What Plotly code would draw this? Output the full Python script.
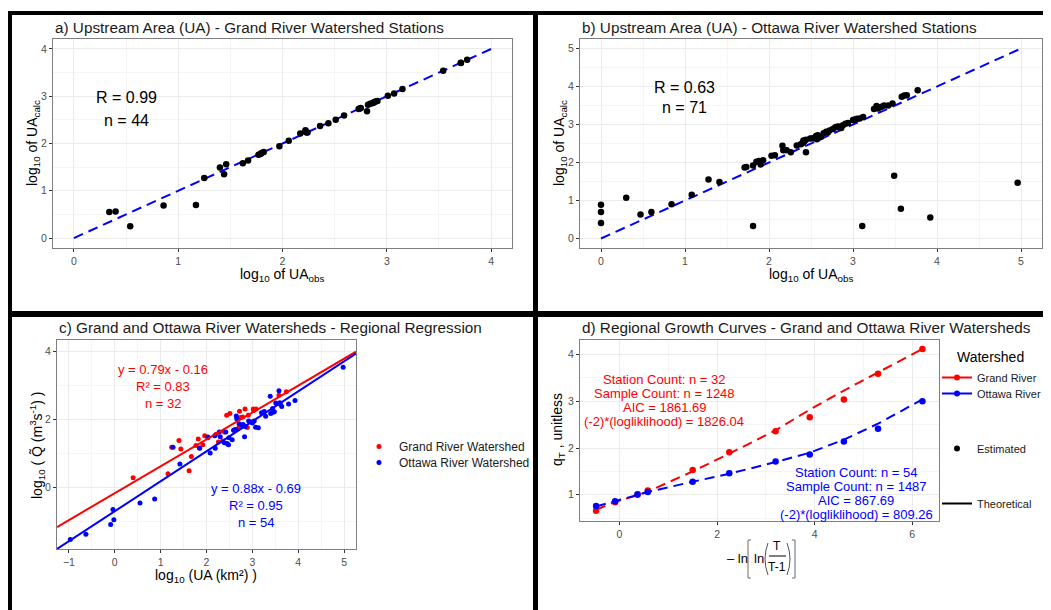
import plotly.graph_objects as go

W, H = 1051, 610
OFF = 8  # page offset of the plot div inside the browser window
FONT = "Liberation Sans, Arial, sans-serif"
RED = "#FF0000"
BLUE = "#0000FF"

# ---------------- Data ----------------
# a) Grand River: observed vs calculated log10 upstream area
grand_ua_obs = [0.34, 0.40, 0.54, 0.86, 1.17, 1.25, 1.40, 1.44, 1.46, 1.62, 1.67, 1.77, 1.79, 1.82,
                1.97, 2.06, 2.17, 2.22, 2.23, 2.24, 2.36, 2.44, 2.51, 2.59, 2.73, 2.75, 2.81, 2.82,
                2.84, 2.87, 2.89, 2.91, 3.01, 3.07, 3.15, 3.54, 3.71, 3.77, 2.86, 2.88, 2.22, 1.80,
                2.74, 3.71]
grand_ua_calc = [0.55, 0.56, 0.25, 0.69, 0.70, 1.27, 1.49, 1.35, 1.56, 1.58, 1.64, 1.76, 1.78, 1.82,
                 1.94, 2.06, 2.21, 2.28, 2.23, 2.23, 2.37, 2.43, 2.50, 2.59, 2.73, 2.75, 2.68, 2.82,
                 2.84, 2.86, 2.89, 2.90, 3.01, 3.06, 3.15, 3.54, 3.70, 3.77, 2.85, 2.87, 2.25, 1.80,
                 2.74, 3.71]

# b) Ottawa River: observed vs calculated log10 upstream area
ottawa_ua_obs = [0.00, 0.00, 0.00, 0.30, 0.47, 0.60, 0.84, 1.08, 1.28, 1.41, 1.81, 1.71, 1.73, 1.81,
                 1.85, 1.88, 1.90, 1.93, 2.03, 2.07, 2.16, 2.17, 2.21, 2.26, 2.33, 2.40, 2.41, 2.44,
                 2.44, 2.49, 2.56, 2.57, 2.62, 2.65, 2.68, 2.72, 2.79, 2.83, 2.86, 2.91, 2.94, 3.02,
                 3.05, 3.12, 3.11, 3.25, 3.28, 3.30, 3.37, 3.42, 3.47, 3.49, 3.57, 3.58, 3.61, 3.64,
                 3.77, 3.92, 4.96, 2.38, 2.42, 2.52, 2.58, 2.60, 2.70, 2.76, 2.81, 2.88, 3.00, 3.08,
                 3.34]
ottawa_ua_calc = [0.89, 0.70, 0.41, 1.07, 0.63, 0.70, 0.90, 1.15, 1.55, 1.49, 0.33, 1.87, 1.88, 1.92,
                  2.02, 2.04, 1.95, 2.06, 2.18, 2.19, 2.44, 2.32, 2.32, 2.27, 2.45, 2.51, 2.58, 2.27,
                  2.60, 2.63, 2.70, 2.61, 2.68, 2.77, 2.81, 2.84, 2.93, 2.95, 2.91, 3.02, 3.04, 3.13,
                  3.15, 3.20, 0.33, 3.41, 3.49, 3.42, 3.50, 3.50, 3.55, 1.65, 0.78, 3.73, 3.76, 3.77,
                  3.90, 0.55, 1.47, 2.48, 2.55, 2.64, 2.72, 2.66, 2.79, 2.88, 2.94, 2.98, 3.12, 3.16,
                  3.47]

# c) Regional regression: log10 UA vs log10 median flow
grand_reg_x = [0.40, 1.16, 1.24, 1.40, 1.44, 1.62, 1.67, 1.77, 1.82, 1.85, 1.96, 2.03, 2.21, 2.26,
               2.39, 2.44, 2.51, 2.60, 2.72, 2.74, 2.84, 2.91, 2.89, 3.02, 3.08, 2.71, 3.58, 3.74,
               2.35, 2.79, 3.03, 1.92]
grand_reg_y = [0.29, 0.41, 1.19, 1.39, 1.14, 0.50, 0.92, 1.24, 1.43, 1.17, 1.53, 1.47, 1.57, 1.34,
               1.64, 2.13, 2.18, 1.69, 2.25, 2.06, 2.31, 2.13, 1.77, 2.31, 2.31, 1.78, 2.72, 2.82,
               1.37, 2.08, 2.27, 1.26]
ottawa_reg_x = [-0.97, -0.63, -0.09, -0.04, -0.02, 0.55, 0.87, 1.27, 1.42, 1.85, 2.03, 2.08, 2.19,
                2.18, 2.28, 2.39, 2.42, 2.48, 2.49, 2.56, 2.59, 2.64, 2.65, 2.66, 2.71, 2.77, 2.83,
                2.84, 2.92, 2.98, 3.04, 3.13, 3.26, 3.29, 3.39, 3.40, 3.44, 3.48, 3.51, 3.58, 3.61,
                3.64, 3.79, 3.93, 4.98, 3.07, 2.45, 2.62, 2.80, 3.20, 3.45, 3.60, 2.30, 3.00]
ottawa_reg_y = [-1.52, -1.37, -1.08, -0.64, -0.94, -0.45, -0.33, 1.19, 0.70, 1.16, 1.49, 1.02, 1.16,
                1.53, 1.64, 1.32, 1.64, 1.26, 1.47, 1.41, 1.69, 1.71, 2.11, 2.03, 1.88, 1.84, 1.50,
                1.80, 1.96, 1.93, 1.96, 1.76, 2.24, 2.10, 2.69, 2.18, 2.33, 2.23, 2.49, 2.85, 2.45,
                2.39, 2.46, 2.56, 3.54, 1.78, 1.30, 1.70, 1.86, 2.20, 2.22, 2.50, 1.50, 1.90]
fit_slope = {"Grand": 0.79, "Ottawa": 0.88}
fit_intercept = {"Grand": -0.16, "Ottawa": -0.69}
fit_x_span = [-1.26, 5.26]

# d) Regional growth curves
growth_x = [-0.48, -0.09, 0.37, 0.58, 1.50, 2.25, 3.20, 3.90, 4.60, 5.30, 6.21]
grand_est = [0.66, 0.84, 1.00, 1.09, 1.53, 1.91, 2.36, 2.66, 3.04, 3.59, 4.12]
ottawa_est = [0.76, 0.86, 1.01, 1.06, 1.28, 1.46, 1.71, 1.86, 2.14, 2.41, 3.00]
grand_theo = [0.68, 0.85, 0.99, 1.07, 1.50, 1.88, 2.38, 2.82, 3.23, 3.62, 4.12]
ottawa_theo = [0.75, 0.87, 1.00, 1.06, 1.28, 1.45, 1.70, 1.90, 2.18, 2.52, 3.04]

# ---------------- Helpers (page pixel -> paper fraction) ----------------
FW, FH = W - OFF, H - OFF

def fx(x):
    return (x - OFF) / FW

def fy(y):
    return 1 - (y - OFF) / FH

DASH = "10px,6px"
fig = go.Figure()

# a
fig.add_trace(go.Scatter(x=[0, 4], y=[0, 4], mode="lines", line=dict(color=BLUE, width=2, dash=DASH),
                         xaxis="x", yaxis="y", showlegend=False))
fig.add_trace(go.Scatter(x=grand_ua_obs, y=grand_ua_calc, mode="markers",
                         marker=dict(color="black", size=6.5), xaxis="x", yaxis="y", showlegend=False))
# b
fig.add_trace(go.Scatter(x=[0, 5], y=[0, 5], mode="lines", line=dict(color=BLUE, width=2, dash=DASH),
                         xaxis="x2", yaxis="y2", showlegend=False))
fig.add_trace(go.Scatter(x=ottawa_ua_obs, y=ottawa_ua_calc, mode="markers",
                         marker=dict(color="black", size=6.5), xaxis="x2", yaxis="y2", showlegend=False))
# c
fig.add_trace(go.Scatter(x=grand_reg_x, y=grand_reg_y, mode="markers", name="Grand River Watershed",
                         marker=dict(color=RED, size=5), xaxis="x3", yaxis="y3", legend="legend"))
fig.add_trace(go.Scatter(x=ottawa_reg_x, y=ottawa_reg_y, mode="markers", name="Ottawa River Watershed",
                         marker=dict(color=BLUE, size=5), xaxis="x3", yaxis="y3", legend="legend3"))
for key, col in (("Grand", RED), ("Ottawa", BLUE)):
    fig.add_trace(go.Scatter(x=fit_x_span,
                             y=[fit_slope[key] * v + fit_intercept[key] for v in fit_x_span],
                             mode="lines", line=dict(color=col, width=2),
                             xaxis="x3", yaxis="y3", showlegend=False))
# d
for est, theo, col in ((grand_est, grand_theo, RED), (ottawa_est, ottawa_theo, BLUE)):
    fig.add_trace(go.Scatter(x=growth_x, y=theo, mode="lines", line=dict(color=col, width=2, dash=DASH),
                             xaxis="x4", yaxis="y4", showlegend=False))
    fig.add_trace(go.Scatter(x=growth_x, y=est, mode="markers", marker=dict(color=col, size=6.5),
                             xaxis="x4", yaxis="y4", showlegend=False))
# d legend entries
legend_entries = [("Grand River", RED, "lines+markers", "legend2"),
                  ("Ottawa River", BLUE, "lines+markers", "legend4"),
                  ("Estimated", "black", "markers", "legend5"),
                  ("Theoretical", "black", "lines", "legend6")]
for name, col, mode, lg in legend_entries:
    fig.add_trace(go.Scatter(x=[None], y=[None], mode=mode, name=name,
                             line=dict(color=col, width=2), marker=dict(color=col, size=6),
                             xaxis="x4", yaxis="y4", legend=lg))

# ---------------- Axes ----------------
def axis(domain, rng, dtick, minor, anchor, tick0=0):
    return dict(domain=domain, range=rng, dtick=dtick, tick0=tick0, anchor=anchor,
                showgrid=True, gridcolor="#ebebeb", gridwidth=1, zeroline=False,
                showline=True, mirror=True, linecolor="#7f7f7f", linewidth=1,
                ticks="outside", ticklen=3, tickcolor="#333333", tickwidth=1,
                tickfont=dict(family=FONT, size=10.5, color="#4d4d4d"),
                minor=dict(dtick=minor, tick0=tick0, showgrid=True, gridcolor="#f5f5f5", gridwidth=1, ticks=""))

panels = {
    "a": ((53, 512), (39, 248)),
    "b": ((580, 1042), (39, 248)),
    "c": ((57, 356), (340, 549)),
    "d": ((580, 939), (340, 521)),
}
def dom(p):
    (x0, x1), (y0, y1) = panels[p]
    return [fx(x0), fx(x1)], [fy(y1), fy(y0)]

da_x, da_y = dom("a"); db_x, db_y = dom("b"); dc_x, dc_y = dom("c"); dd_x, dd_y = dom("d")

def leg(x, y, size=12):
    return dict(x=fx(x), y=fy(y), xanchor="left", yanchor="top", bgcolor="rgba(0,0,0,0)",
                font=dict(family=FONT, size=size, color="#1a1a1a"), itemsizing="trace",
                tracegroupgap=0, borderwidth=0)

fig.update_layout(
    width=FW, height=FH, margin=dict(l=0, r=0, t=0, b=0, autoexpand=False),
    paper_bgcolor="white", plot_bgcolor="white",
    font=dict(family=FONT, color="black"),
    xaxis=axis(da_x, [-0.2, 4.2], 1, 0.5, "y"),
    yaxis=axis(da_y, [-0.21, 4.21], 1, 0.5, "x"),
    xaxis2=axis(db_x, [-0.25, 5.25], 1, 0.5, "y2"),
    yaxis2=axis(db_y, [-0.25, 5.25], 1, 0.5, "x2"),
    xaxis3=axis(dc_x, [-1.26, 5.26], 1, 0.5, "y3"),
    yaxis3=axis(dc_y, [-1.80, 4.34], 2, 1, "x3"),
    xaxis4=axis(dd_x, [-0.81, 6.55], 2, 1, "y4"),
    yaxis4=axis(dd_y, [0.44, 4.31], 1, 0.5, "x4"),
    legend=leg(359, 432),
    legend3=leg(359, 448),
    legend2=leg(937, 363, 11),
    legend4=leg(937, 379, 11),
    legend5=leg(937, 434, 11),
    legend6=leg(937, 489, 11),
)

# ---------------- Annotations ----------------
ann = []
def text(x, y, s, size=14, color="black", xanchor="center", angle=0, yanchor="middle"):
    ann.append(dict(x=fx(x), y=fy(y), xref="paper", yref="paper", text=s, showarrow=False,
                    xanchor=xanchor, yanchor=yanchor, textangle=angle,
                    font=dict(family=FONT, size=size, color=color)))

# titles
TS = 15.3
text(53, 27, "a) Upstream Area (UA) - Grand River Watershed Stations", TS, "#1a1a1a", "left")
text(580, 27, "b) Upstream Area (UA) - Ottawa River Watershed Stations", TS, "#1a1a1a", "left")
text(57, 327, "c) Grand and Ottawa River Watersheds - Regional Regression", TS, "#1a1a1a", "left")
text(580, 327, "d) Regional Growth Curves - Grand and Ottawa River Watersheds", TS, "#1a1a1a", "left")
text(955, 357, "Watershed", 14, "black", "left")

# axis titles
text(282, 275, "log<sub>10</sub> of UA<sub>obs</sub>", 14)
text(33, 143, "log<sub>10</sub> of UA<sub>calc</sub>", 14, angle=-90)
text(811, 275, "log<sub>10</sub> of UA<sub>obs</sub>", 14)
text(560, 143, "log<sub>10</sub> of UA<sub>calc</sub>", 14, angle=-90)
text(206, 576, "log<sub>10</sub> (UA (km²) )", 14)
text(37, 445, "log<sub>10</sub> ( Q̃ (m<sup>3</sup>s<sup>-1</sup>) )", 14, angle=-90)
text(558, 430, "q<sub>T</sub> , unitless", 14, angle=-90)

# d x-axis title: - ln[ ln( T / (T-1) ) ]
text(737, 558, "– ln", 13)
text(759, 558, "ln", 13)
text(777, 546, "T", 12)
text(777, 567, "T-1", 12)

# stats
text(126, 97, "R = 0.99", 16)
text(126, 121, "n = 44", 16)
text(684, 87, "R = 0.63", 16)
text(684, 107, "n = 71", 16)
for i, s in enumerate(["y = 0.79x - 0.16", "R² = 0.83", "n = 32"]):
    text(163, 369 + 17 * i, s, 13, RED)
for i, s in enumerate(["y = 0.88x - 0.69", "R² = 0.95", "n = 54"]):
    text(256, 488 + 17 * i, s, 13, BLUE)
for i, s in enumerate(["Station Count: n = 32", "Sample Count: n = 1248", "AIC = 1861.69",
                       "(-2)*(logliklihood) = 1826.04"]):
    text(664, 379 + 14 * i, s, 13, RED)
for i, s in enumerate(["Station Count: n = 54", "Sample Count: n = 1487", "AIC = 867.69",
                       "(-2)*(logliklihood) = 809.26"]):
    text(856, 472 + 14 * i, s, 13, BLUE)

fig.update_layout(annotations=ann)

# ---------------- Frame shapes & math glyphs ----------------
shapes = []
def rect(x0, y0, x1, y1, color="black"):
    shapes.append(dict(type="rect", xref="paper", yref="paper", x0=fx(x0), x1=fx(x1), y0=fy(y1), y1=fy(y0),
                       fillcolor=color, line=dict(width=0), layer="above"))
rect(8, 11, 1051, 15)
rect(8, 11, 12, 610)
rect(533, 11, 538, 610)
rect(8, 311, 1051, 317)

def path(pts, color="#666666", width=1, curve=False):
    if curve:
        (xa, ya), (xc, yc), (xb, yb) = pts
        d = f"M {fx(xa)},{fy(ya)} Q {fx(xc)},{fy(yc)} {fx(xb)},{fy(yb)}"
    else:
        d = "M " + " L ".join(f"{fx(px)},{fy(py)}" for px, py in pts)
    shapes.append(dict(type="path", xref="paper", yref="paper", path=d, line=dict(color=color, width=width)))

# square brackets
path([(751, 540), (748, 540), (748, 578), (751, 578)], "#7a6a5a")
path([(792, 540), (795, 540), (795, 578), (792, 578)], "#5a6a7a")
# parentheses
path([(768, 543), (762, 559), (768, 575)], "#555555", 1, True)
path([(787, 543), (793, 559), (787, 575)], "#555555", 1, True)
# fraction bar
path([(769, 556), (786, 556)], "black", 1)
fig.update_layout(shapes=shapes)

fig.write_html("out.html")
